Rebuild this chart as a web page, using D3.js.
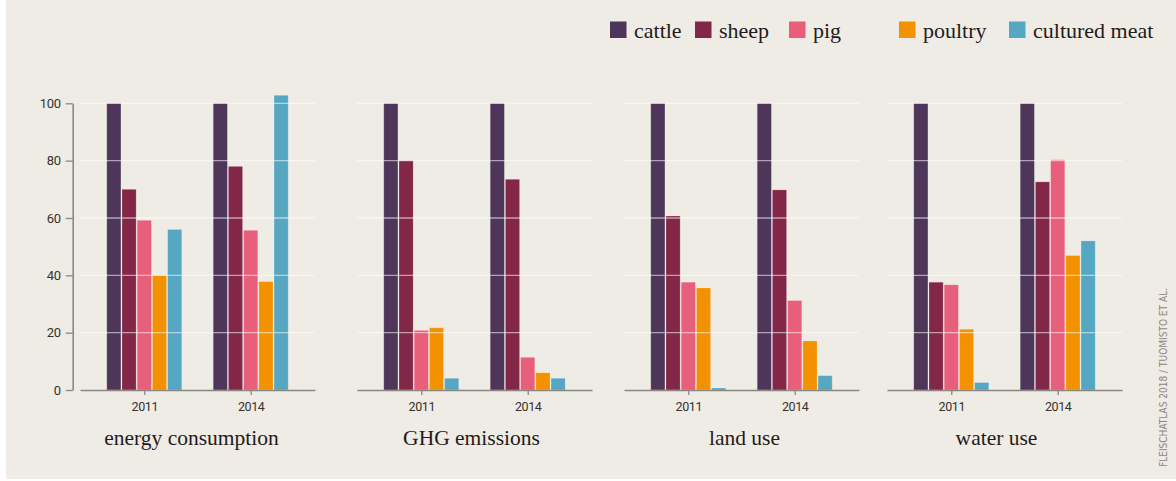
<!DOCTYPE html>
<html>
<head>
<meta charset="utf-8">
<script src="https://cdn.jsdelivr.net/npm/d3@7"></script>
<style>
  html, body { margin: 0; padding: 0; background: #ffffff; }
  svg { display: block; }
</style>
</head>
<body>
<svg id="chart" width="1176" height="481"></svg>
<script>
// ---- data ----
const series = ["cattle", "sheep", "pig", "poultry", "cultured meat"];
const years = ["2011", "2014"];
const panels = ["energy consumption", "GHG emissions", "land use", "water use"];
const yTicks = [0, 20, 40, 60, 80, 100];
// values per panel: [year][series]
const energy2011 = [100, 70, 59.2, 40, 56];
const energy2014 = [100, 78, 55.7, 37.8, 102.8];
const ghg2011 = [100, 80, 20.8, 21.7, 4.1];
const ghg2014 = [100, 73.5, 11.4, 6.0, 4.1];
const land2011 = [100, 60.7, 37.6, 35.6, 0.7];
const land2014 = [100, 69.8, 31.2, 17.1, 5.0];
const water2011 = [100, 37.6, 36.7, 21.2, 2.6];
const water2014 = [100, 72.6, 80.3, 46.9, 52.0];
const panelValues = [
  [energy2011, energy2014],
  [ghg2011, ghg2014],
  [land2011, land2014],
  [water2011, water2014]
];
const sourceText = "FLEISCHATLAS 2018 / TUOMISTO ET AL.";

// ---- style / layout ----
const colors = ["#4d3659", "#832748", "#e75f7b", "#f39200", "#55a7c2"];
const bg = "#efebe5";
const axisColor = "#8c8781";
const panelLeft = [80, 357, 624, 887];
const panelWidth = 235;
const titleOffset = [-6, -3, 3, -8];
const tickFont = "Roboto, 'Open Sans', sans-serif";
const sansFont = "'Liberation Sans Narrow', 'DejaVu Sans Condensed', 'Open Sans', sans-serif";
const serifFont = "'Liberation Serif', 'DejaVu Serif', serif";

const svg = d3.select("#chart");
svg.append("rect").attr("x", 6).attr("y", 0).attr("width", 1170).attr("height", 479).attr("fill", bg);

const y = d3.scaleLinear().domain([0, 100]).range([390, 103.3]);
const xYear = d3.scalePoint().domain(years).range([0, panelWidth]).padding(0.604);
const xSeries = d3.scaleBand().domain(series).range([-37.5, 37.5]).paddingInner(0.07);

panels.forEach((title, pi) => {
  const g = svg.append("g").attr("transform", `translate(${panelLeft[pi]},0)`);

  // bars
  years.forEach((yr, yi) => {
    const gg = g.append("g").attr("transform", `translate(${xYear(yr)},0)`);
    gg.selectAll("rect")
      .data(panelValues[pi][yi].map((v, si) => ({ v, s: series[si], c: colors[si] })))
      .join("rect")
      .attr("x", d => xSeries(d.s))
      .attr("width", xSeries.bandwidth())
      .attr("y", d => y(d.v))
      .attr("height", d => y(0) - y(d.v))
      .attr("fill", d => d.c)
      .attr("stroke", "rgba(255,255,255,0.25)")
      .attr("stroke-width", 0.8);
  });

  // gridlines (drawn over the bars, faint)
  g.selectAll("line.grid")
    .data(yTicks.filter(t => t > 0))
    .join("line")
    .attr("class", "grid")
    .attr("x1", 0).attr("x2", panelWidth)
    .attr("y1", d => y(d)).attr("y2", d => y(d))
    .attr("stroke", "#ffffff")
    .attr("stroke-opacity", 0.55)
    .attr("stroke-width", 1.3);

  // x axis
  const xAxis = d3.axisBottom(xYear).tickSize(5).tickPadding(7).tickSizeOuter(0);
  const ax = g.append("g").attr("transform", `translate(0,${y(0)})`).call(xAxis);
  ax.select(".domain").attr("stroke", axisColor).attr("stroke-width", 1.6);
  ax.selectAll(".tick line").attr("stroke", axisColor).attr("stroke-width", 1.3);
  ax.selectAll(".tick text")
    .attr("fill", "#36322f")
    .attr("font-family", tickFont)
    .attr("font-size", 12.5)
    .attr("letter-spacing", -0.4);

  // panel title
  g.append("text")
    .attr("x", panelWidth / 2 + titleOffset[pi])
    .attr("y", 445)
    .attr("text-anchor", "middle")
    .attr("fill", "#1f1c1b")
    .style("font-family", serifFont)
    .style("font-size", "21.5px")
    .text(title);
});

// y axis
const yAxis = d3.axisLeft(y).tickValues(yTicks).tickSize(7).tickPadding(5).tickSizeOuter(0);
const yAx = svg.append("g").attr("transform", "translate(72.7,0)").call(yAxis);
yAx.select(".domain").attr("stroke", axisColor).attr("stroke-width", 1.6);
yAx.selectAll(".tick line").attr("stroke", axisColor).attr("stroke-width", 1.3);
yAx.selectAll(".tick text")
  .attr("fill", "#36322f")
  .attr("font-family", tickFont)
  .attr("font-size", 13)
  .attr("letter-spacing", -0.3);

// legend
const legendX = [610, 695, 789, 899, 1009];
const lg = svg.append("g");
series.forEach((s, i) => {
  lg.append("rect")
    .attr("x", legendX[i]).attr("y", 21.5)
    .attr("width", 16.5).attr("height", 16.5)
    .attr("fill", colors[i]);
  lg.append("text")
    .attr("x", legendX[i] + 24).attr("y", 37.5)
    .attr("fill", "#1f1c1b")
    .style("font-family", serifFont)
    .style("font-size", "22px")
    .text(s);
});

// source
svg.append("text")
  .attr("transform", "translate(1166.5,467) rotate(-90)")
  .attr("fill", "#8c8781")
  .style("font-family", sansFont)
  .style("font-size", "10.5px")
  .attr("textLength", 179)
  .attr("lengthAdjust", "spacingAndGlyphs")
  .text(sourceText);
</script>
</body>
</html>
